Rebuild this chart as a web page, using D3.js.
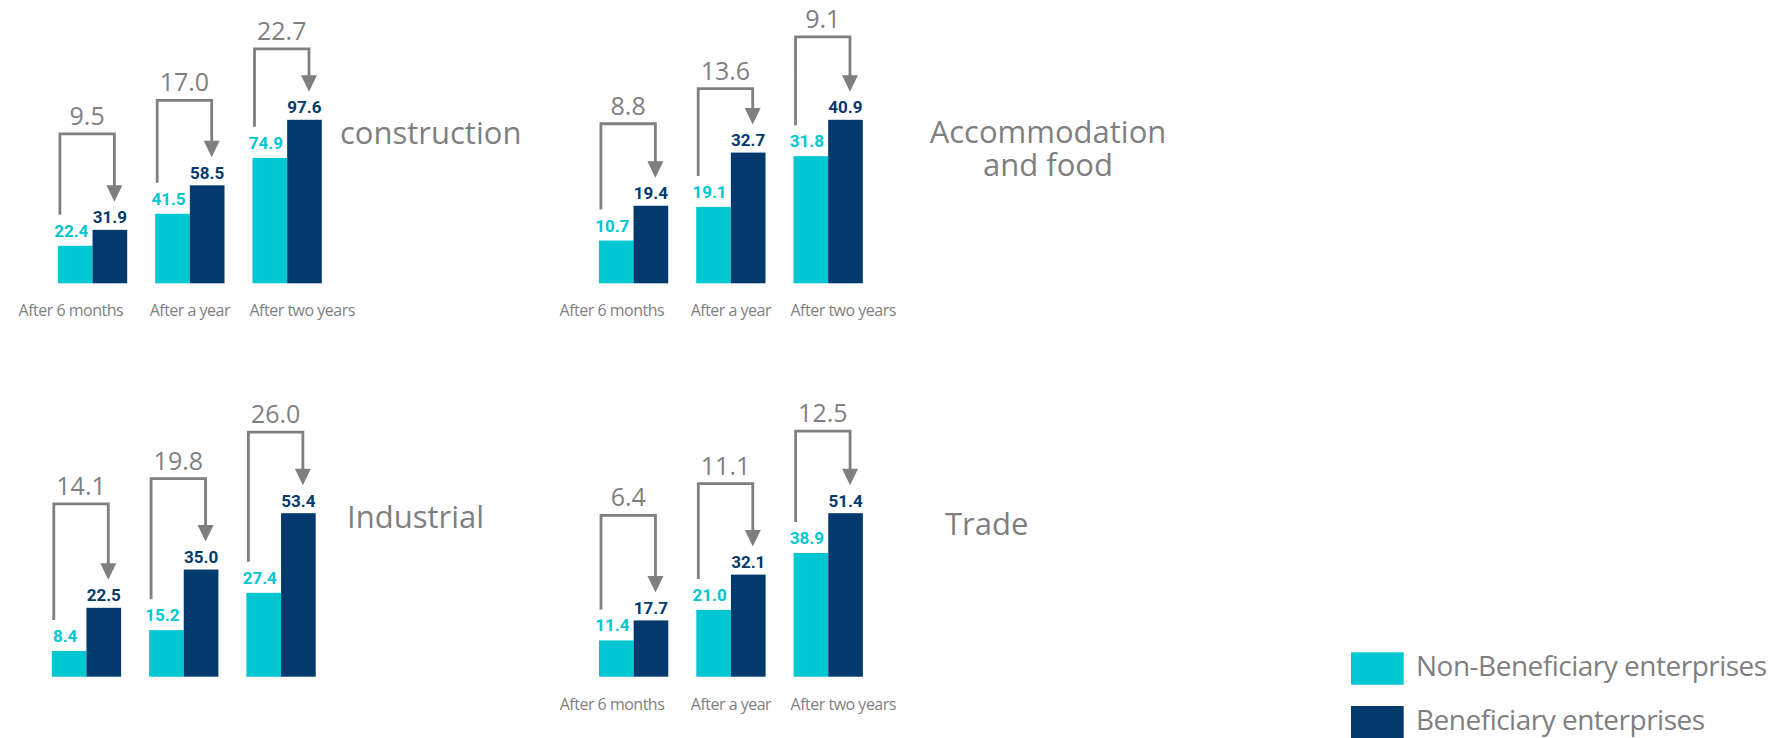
<!DOCTYPE html>
<html>
<head>
<meta charset="utf-8">
<script src="https://cdn.jsdelivr.net/npm/d3@7"></script>
<style>
  html, body { margin: 0; padding: 0; background: #ffffff; }
  svg { display: block; }
</style>
</head>
<body>
<svg id="chart" width="1792" height="738"></svg>
<script>
// Periods shown under each group of bars
const categories = ["After 6 months", "After a year", "After two years"];
const seriesNames = ["Non-Beneficiary enterprises", "Beneficiary enterprises"];

// Construction
const constructionNon = [22.4, 41.5, 74.9];
const constructionBen = [31.9, 58.5, 97.6];
const constructionGap = [9.5, 17.0, 22.7];

// Accommodation and food
const accommodationNon = [10.7, 19.1, 31.8];
const accommodationBen = [19.4, 32.7, 40.9];
const accommodationGap = [8.8, 13.6, 9.1];

// Industrial
const industrialNon = [8.4, 15.2, 27.4];
const industrialBen = [22.5, 35.0, 53.4];
const industrialGap = [14.1, 19.8, 26.0];

// Trade
const tradeNon = [11.4, 21.0, 38.9];
const tradeBen = [17.7, 32.1, 51.4];
const tradeGap = [6.4, 11.1, 12.5];

// ---- styling ----
const CYAN = "#00c7d1";
const NAVY = "#033a6d";
const GREY = "#7f7f7f";
const TEXT_FONT = "'Open Sans', 'Noto Sans', sans-serif";
const NUM_FONT = "Roboto, 'DejaVu Sans', sans-serif";

// ---- layout of the four small multiples ----
const GROUP_STEP = 97.3;
const PAIR_WIDTH = 69.3;
const TALLEST = 163.5;     // pixel height of the tallest bar in each panel

const panels = [
  { non: constructionNon, ben: constructionBen, gap: constructionGap,
    left: 57.9, base: 283.3, showCats: true, arms: [68, 57, 43],
    title: { lines: ["construction"], x: 340, y: 144, anchor: "start" } },
  { non: accommodationNon, ben: accommodationBen, gap: accommodationGap,
    left: 598.9, base: 283.3, showCats: true, arms: [54, 36, 55],
    title: { lines: ["Accommodation", "and food"], x: 1048, y: 142.7, anchor: "middle" } },
  { non: industrialNon, ben: industrialBen, gap: industrialGap,
    left: 51.8, base: 676.7, showCats: false, arms: [76, 63, 53],
    title: { lines: ["Industrial"], x: 347, y: 528, anchor: "start" } },
  { non: tradeNon, ben: tradeBen, gap: tradeGap,
    left: 599, base: 676.7, showCats: true, arms: [77, 63, 54],
    title: { lines: ["Trade"], x: 945, y: 535, anchor: "start" } }
];

const svg = d3.select("#chart");
const color = d3.scaleOrdinal().domain(seriesNames).range([CYAN, NAVY]);

panels.forEach(p => {
  const g = svg.append("g");

  const x = d3.scaleBand()
    .domain(categories)
    .range([p.left, p.left + GROUP_STEP * (3 - (GROUP_STEP - PAIR_WIDTH) / GROUP_STEP)])
    .paddingInner((GROUP_STEP - PAIR_WIDTH) / GROUP_STEP)
    .paddingOuter(0);

  const xs = d3.scaleBand().domain(seriesNames).range([0, x.bandwidth()]).padding(0);

  const vmax = d3.max(p.ben.concat(p.non));
  const y = d3.scaleLinear().domain([0, vmax]).range([p.base, p.base - TALLEST]);

  const rows = categories.map((c, i) => ({
    cat: c, i,
    vals: [
      { s: seriesNames[0], v: p.non[i] },
      { s: seriesNames[1], v: p.ben[i] }
    ],
    gap: p.gap[i]
  }));

  const grp = g.selectAll("g.grp").data(rows).join("g")
    .attr("class", "grp")
    .attr("transform", d => `translate(${x(d.cat)},0)`);

  // bars
  grp.selectAll("rect").data(d => d.vals).join("rect")
    .attr("x", d => xs(d.s))
    .attr("width", xs.bandwidth())
    .attr("y", d => y(d.v))
    .attr("height", d => y(0) - y(d.v))
    .attr("fill", d => color(d.s));

  // value labels above bars
  grp.selectAll("text.val").data(d => d.vals).join("text")
    .attr("class", "val")
    .attr("x", (d, j) => xs(d.s) + xs.bandwidth() / 2 + (j === 0 ? -4 : 0))
    .attr("y", (d, j) => y(d.v) - (j === 0 ? 9 : 6.5))
    .attr("text-anchor", "middle")
    .attr("font-family", NUM_FONT)
    .attr("font-weight", 700)
    .attr("font-size", 17)
    .attr("fill", d => color(d.s))
    .text(d => d3.format(".1f")(d.v));

  // difference bracket with arrow
  rows.forEach(d => {
    const gx = x(d.cat);
    const xl = gx + xs(seriesNames[0]) + 2;
    const xr = gx + xs(seriesNames[1]) + xs.bandwidth() / 2 + 4.5;
    const yLeft = y(d.vals[0].v) - 31;
    const tip = y(d.vals[1].v) - 28;
    const top = tip - p.arms[d.i];
    const headH = 16.5, headW = 8;

    g.append("path")
      .attr("d", `M${xl},${yLeft} V${top} H${xr} V${tip - headH + 1}`)
      .attr("fill", "none")
      .attr("stroke", GREY)
      .attr("stroke-width", 2.8)
      .attr("stroke-linejoin", "miter");

    g.append("path")
      .attr("d", `M${xr - headW},${tip - headH} L${xr + headW},${tip - headH} L${xr},${tip} Z`)
      .attr("fill", GREY);

    g.append("text")
      .attr("x", (xl + xr) / 2)
      .attr("y", top - 9)
      .attr("text-anchor", "middle")
      .attr("font-family", TEXT_FONT)
      .attr("font-size", 25)
      .attr("fill", GREY)
      .text(d3.format(".1f")(d.gap));
  });

  // period labels under the groups
  if (p.showCats) {
    g.selectAll("text.cat").data(categories).join("text")
      .attr("class", "cat")
      .attr("x", (c, i) => i === 0 ? x(c) + x.bandwidth() - 4
                        : i === 1 ? x(c) + x.bandwidth() / 2
                        : x(c) - 3)
      .attr("y", p.base + 33)
      .attr("text-anchor", (c, i) => i === 0 ? "end" : i === 1 ? "middle" : "start")
      .attr("font-family", TEXT_FONT)
      .attr("font-size", 16)
      .attr("letter-spacing", -0.5)
      .attr("fill", GREY)
      .text(c => c);
  }

  // sector title
  g.append("text")
    .attr("text-anchor", p.title.anchor)
    .attr("font-family", TEXT_FONT)
    .attr("font-size", 31)
    .attr("fill", GREY)
    .selectAll("tspan").data(p.title.lines).join("tspan")
      .attr("x", p.title.x)
      .attr("y", (l, i) => p.title.y + i * 33.3)
      .text(l => l);
});

// legend
const legend = svg.append("g").attr("transform", "translate(1351,652.3)");
const li = legend.selectAll("g").data(seriesNames).join("g")
  .attr("transform", (d, i) => `translate(0,${i * 53.7})`);
li.append("rect")
  .attr("width", 52.7)
  .attr("height", 32.4)
  .attr("fill", d => color(d));
li.append("text")
  .attr("x", 65)
  .attr("y", 23.7)
  .attr("font-family", TEXT_FONT)
  .attr("font-size", 28)
  .attr("letter-spacing", -0.5)
  .attr("fill", GREY)
  .text(d => d);
</script>
</body>
</html>
